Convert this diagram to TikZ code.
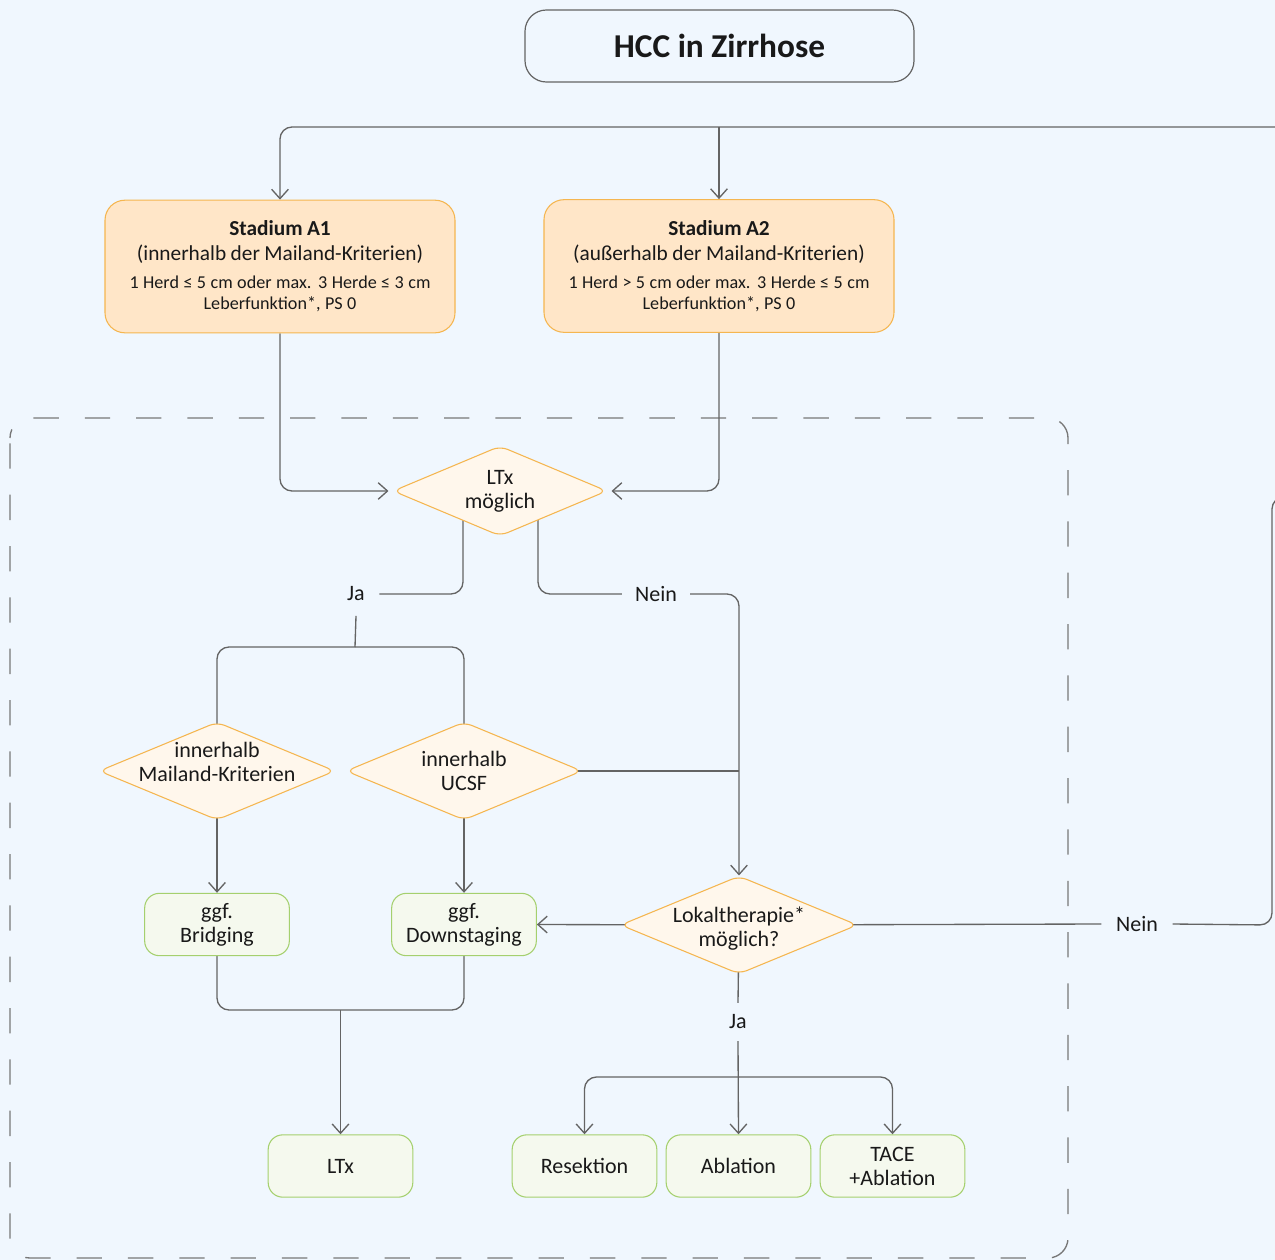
\documentclass[tikz,border=0pt]{standalone}
\usepackage{fontspec}
\setmainfont{Carlito}
\usetikzlibrary{arrows.meta,calc,shapes.geometric}
\definecolor{bgc}{RGB}{240,247,254}
\definecolor{lnc}{RGB}{100,100,100}
\definecolor{dsc}{RGB}{120,120,120}
\definecolor{orb}{RGB}{245,182,80}
\definecolor{orf}{RGB}{255,230,200}
\definecolor{dmf}{RGB}{255,247,236}
\definecolor{grb}{RGB}{165,208,110}
\definecolor{grf}{RGB}{245,249,238}
\definecolor{txc}{RGB}{25,25,25}
\pgfdeclarelayer{bgl}
\pgfdeclarelayer{conl}
\pgfsetlayers{bgl,conl,main}
\begin{document}
\begin{tikzpicture}[x=0.75pt,y=-0.75pt,
  every node/.style={text=txc},
  basefont/.style={font=\fontsize{16.5}{18}\selectfont},
  titlebox/.style={draw=lnc, line width=0.9pt, rounded corners=16pt, minimum width=291.75pt, minimum height=54pt, font=\fontsize{25}{30}\selectfont\bfseries},
  stagebox/.style={draw=orb, fill=orf, line width=0.8pt, rounded corners=15pt, minimum width=262.5pt, minimum height=99.5pt, inner sep=0pt, text width=258pt, align=center},
  decbox/.style={diamond, draw=orb, fill=dmf, line width=0.8pt, rounded corners=6pt, inner sep=0pt},
  resbox/.style={draw=grb, fill=grf, line width=0.8pt, rounded corners=11pt, minimum width=108.5pt, minimum height=46.75pt, inner sep=0pt, align=center, basefont},
  lbl/.style={basefont, inner sep=0pt, outer sep=0pt},
  conn/.style={draw=lnc, line width=1pt, rounded corners=9pt},
  arr/.style={conn, -{Straight Barb[length=7pt,width=12.5pt]}}
]
\useasboundingbox (0,0) rectangle (1275,1260);
\clip (0,0) rectangle (1275,1260);
\begin{pgfonlayer}{bgl}
  \fill[bgc] (0,0) rectangle (1275,1260);
  \draw[dsc, line width=1pt, rounded corners=15pt, dash pattern=on 19pt off 19.5pt, dash phase=-4pt] (10,418) rectangle (1068,1258);
\end{pgfonlayer}

% nodes
\node[titlebox] (hcc) at (719.5,46) {HCC in Zirrhose};

\node[stagebox] (a1) at (280,266.5) {\fontsize{16}{18.75}\selectfont\textbf{Stadium A1}\\(innerhalb der Mailand-Kriterien)\par\vspace{5pt}\fontsize{13.6}{15.75}\selectfont 1 Herd ≤ 5 cm oder max. 3 Herde ≤ 3 cm\\Leberfunktion*, PS 0\par};
\node[stagebox] (a2) at (719,266) {\fontsize{16}{18.75}\selectfont\textbf{Stadium A2}\\(außerhalb der Mailand-Kriterien)\par\vspace{5pt}\fontsize{13.6}{15.75}\selectfont 1 Herd > 5 cm oder max. 3 Herde ≤ 5 cm\\Leberfunktion*, PS 0\par};

\node[decbox, minimum width=160.5pt, minimum height=67.5pt, label={[basefont, align=center]center:LTx\\möglich}] (ltx) at (500,491) {};
\node[decbox, minimum width=177pt, minimum height=73.5pt, label={[basefont, align=center, yshift=6.5pt]center:innerhalb\\Mailand-Kriterien}] (mk) at (217,771) {};
\node[decbox, minimum width=177pt, minimum height=73.5pt, label={[basefont, align=center]center:innerhalb\\UCSF}] (ucsf) at (464,771) {};
\node[decbox, minimum width=177.75pt, minimum height=73.5pt, label={[basefont, align=center, yshift=-3pt]center:Lokaltherapie*\\möglich?}] (lok) at (739,925) {};

\node[resbox] (brid) at (217,924.5) {ggf.\\Bridging};
\node[resbox] (down) at (464,924.5) {ggf.\\Downstaging};
\node[resbox] (ltxb) at (340.5,1166) {LTx};
\node[resbox] (res) at (584.5,1166) {Resektion};
\node[resbox] (abl) at (738.5,1166) {Ablation};
\node[resbox] (tace) at (892.5,1166) {TACE\\+Ablation};

\node[lbl, inner xsep=11pt, inner ysep=11pt] (ja1) at (356,594) {Ja};
\node[lbl, inner xsep=10pt] (nein1) at (656,594) {Nein};
\node[lbl, inner xsep=11pt] (nein2) at (1137,924) {Nein};
\node[lbl, inner ysep=9pt] (ja2) at (738,1022) {Ja};

% free ends and junctions
\coordinate (busend) at (1290,127);
\coordinate (bustap) at (719,127);
\coordinate (jsplit) at (355,647);
\coordinate (offr) at (1300,497);
\coordinate (rcorner) at (1272,925);
\coordinate (rtop) at (1272,497);
\coordinate (jmerge) at (340.5,1010);
\coordinate (lsplit) at (739,1077);

\begin{pgfonlayer}{conl}
  \draw[arr] (busend) -| (a1.north);
  \draw[arr] (bustap) -- (a2.north);
  \draw[arr, shorten >=3pt] (a1.south) |- (ltx.west);
  \draw[arr, shorten >=3pt] (a2.south) |- (ltx.east);
  \draw[conn] ($(ltx.center)+(-37,0)$) |- (ja1.east);
  \draw[conn] (ja1.south) -- (jsplit);
  \draw[conn] (jsplit) -| (mk.center);
  \draw[conn] (jsplit) -| (ucsf.center);
  \draw[conn] ($(ltx.center)+(38,0)$) |- (nein1.west);
  \draw[arr] (nein1.east) -| (lok.north);
  \draw[conn] (ucsf.center) -- (ucsf.center -| lok.north);
  \draw[arr] (mk.center) -- (brid.north);
  \draw[arr] (ucsf.center) -- (down.north);
  \draw[arr] (lok.center) -- (down.east);
  \draw[conn] (lok.center) -- (nein2.west);
  \draw[conn] (nein2.east) -- (rcorner) -- (rtop) -- (offr);
  \draw[conn] (brid.south) |- (jmerge) -| (down.south);
  \draw[arr] (jmerge) -- (ltxb.north);
  \draw[conn] (lok.center) -- (ja2.north);
  \draw[arr] (ja2.south) -- (abl.north);
  \draw[arr] (lsplit) -| (res.north);
  \draw[arr] (lsplit) -| (tace.north);
\end{pgfonlayer}
\end{tikzpicture}
\end{document}
